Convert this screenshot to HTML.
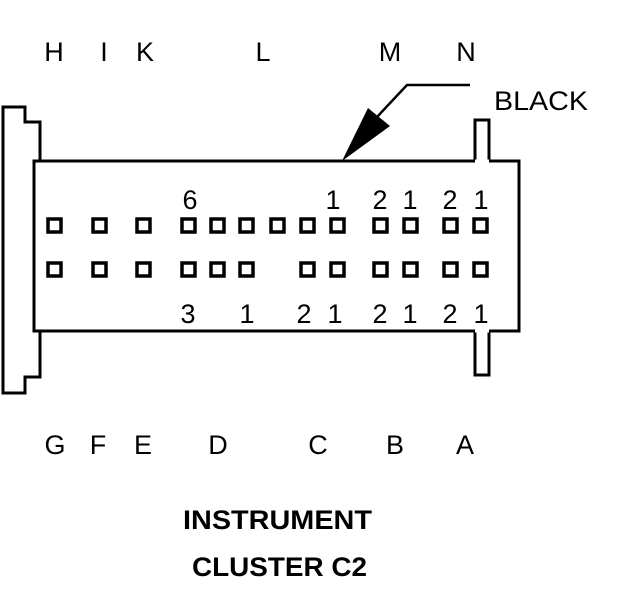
<!DOCTYPE html>
<html><head><style>
html,body{margin:0;padding:0;background:#fff;}
svg{display:block;}
text{font-family:"Liberation Sans",Arial,sans-serif;fill:#000;}
</style></head><body>
<svg width="624" height="600" viewBox="0 0 624 600" xmlns="http://www.w3.org/2000/svg">
<g fill="none" stroke="#000" stroke-width="3">
<path d="M40,161 V122 H25 V107 H3 V393 H25 V377 H40 V331"/>
<rect x="34" y="161" width="485" height="170"/>
<path d="M475,161 V120 H489 V161 M475,331 V375 H489 V331"/>
<polyline points="470,85 407,85 362,133" stroke-width="2.5"/>
</g>
<line x1="475" y1="161" x2="489" y2="161" stroke="#fff" stroke-width="3"/>
<line x1="475" y1="331" x2="489" y2="331" stroke="#fff" stroke-width="3"/>
<polygon points="342,161 368,108 390,126" fill="#000"/>
<g fill="none" stroke="#000" stroke-width="3.5">
<rect x="48" y="219" width="13" height="13"/>
<rect x="93" y="219" width="13" height="13"/>
<rect x="137" y="219" width="13" height="13"/>
<rect x="182" y="219" width="13" height="13"/>
<rect x="211" y="219" width="13" height="13"/>
<rect x="240" y="219" width="13" height="13"/>
<rect x="271" y="219" width="13" height="13"/>
<rect x="301" y="219" width="13" height="13"/>
<rect x="331" y="219" width="13" height="13"/>
<rect x="374" y="219" width="13" height="13"/>
<rect x="404" y="219" width="13" height="13"/>
<rect x="444" y="219" width="13" height="13"/>
<rect x="474" y="219" width="13" height="13"/>
<rect x="48" y="263" width="13" height="13"/>
<rect x="93" y="263" width="13" height="13"/>
<rect x="137" y="263" width="13" height="13"/>
<rect x="182" y="263" width="13" height="13"/>
<rect x="211" y="263" width="13" height="13"/>
<rect x="240" y="263" width="13" height="13"/>
<rect x="301" y="263" width="13" height="13"/>
<rect x="331" y="263" width="13" height="13"/>
<rect x="374" y="263" width="13" height="13"/>
<rect x="404" y="263" width="13" height="13"/>
<rect x="444" y="263" width="13" height="13"/>
<rect x="474" y="263" width="13" height="13"/>
</g>
<g font-size="27" text-anchor="middle">
<text x="54" y="61">H</text><text x="104" y="61">I</text><text x="145" y="61">K</text>
<text x="263" y="61">L</text><text x="390" y="61">M</text><text x="466" y="61">N</text>
<text x="55" y="454">G</text><text x="98" y="454">F</text><text x="143" y="454">E</text>
<text x="218" y="454">D</text><text x="318" y="454">C</text><text x="395" y="454">B</text><text x="465" y="454">A</text>
</g>
<text x="494" y="110" font-size="27" textLength="94" lengthAdjust="spacingAndGlyphs">BLACK</text>
<g font-size="27" text-anchor="middle">
<text x="190" y="209">6</text><text x="333" y="209">1</text><text x="380" y="209">2</text><text x="410" y="209">1</text><text x="450" y="209">2</text><text x="481" y="209">1</text>
<text x="188" y="323">3</text><text x="247" y="323">1</text><text x="304" y="323">2</text><text x="335" y="323">1</text><text x="380" y="323">2</text><text x="410" y="323">1</text><text x="450" y="323">2</text><text x="481" y="323">1</text>
</g>
<g font-size="27" font-weight="bold">
<text x="183" y="529" textLength="189" lengthAdjust="spacingAndGlyphs">INSTRUMENT</text>
<text x="192" y="576" textLength="175" lengthAdjust="spacingAndGlyphs">CLUSTER C2</text>
</g>
</svg>
</body></html>
